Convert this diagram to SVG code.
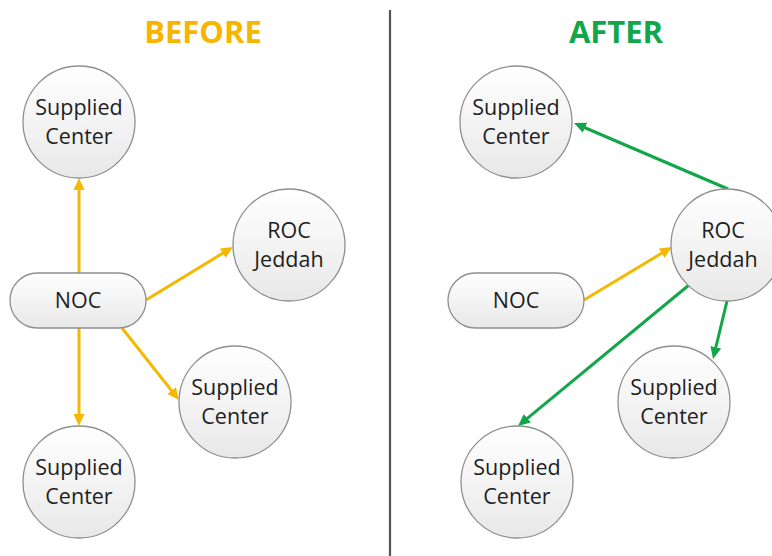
<svg xmlns="http://www.w3.org/2000/svg" width="772" height="556" viewBox="0 0 772 556">
<defs>
<linearGradient id="g" x1="0" y1="0" x2="0" y2="1"><stop offset="0" stop-color="#ffffff"/><stop offset="1" stop-color="#e8e8e8"/></linearGradient>
<marker id="ay" markerUnits="userSpaceOnUse" markerWidth="13" markerHeight="12" refX="7" refY="6" orient="auto"><path d="M0,0.5 L12,6 L0,11.5 z" fill="#f5b800"/></marker>
<marker id="ag" markerUnits="userSpaceOnUse" markerWidth="13" markerHeight="12" refX="7" refY="6" orient="auto"><path d="M0,0.5 L12,6 L0,11.5 z" fill="#12a64a"/></marker>
</defs>
<style>
.n{fill:url(#g);stroke:#8f8f8f;stroke-width:1.3}
.t{font-family:"Open Sans","Liberation Sans",sans-serif;font-size:21.5px;fill:#1e1e1e;text-anchor:middle}
.h{font-family:"Open Sans","Liberation Sans",sans-serif;font-size:31px;font-weight:bold;text-anchor:middle}
.y{stroke:#f5b800;stroke-width:3;fill:none;marker-end:url(#ay)}
.gr{stroke:#12a64a;stroke-width:3;fill:none;marker-end:url(#ag)}
</style>
<rect width="772" height="556" fill="#fff"/>
<text class="h" x="203" y="43" fill="#f7b500">BEFORE</text>
<text class="h" x="616" y="43" fill="#12a64a">AFTER</text>
<line x1="390" y1="10" x2="390" y2="556" stroke="#555" stroke-width="2.2"/>
<g id="connectors">
<line class="y" x1="79" y1="273" x2="79" y2="183"/>
<line class="y" x1="146" y1="300" x2="228.7" y2="249.6"/>
<line class="y" x1="122" y1="328" x2="175.9" y2="396.1"/>
<line class="y" x1="79" y1="328" x2="79" y2="421"/>
<line class="gr" x1="728" y1="189" x2="578.6" y2="125"/>
<line class="y" x1="584" y1="300" x2="667.7" y2="249.6"/>
<line class="gr" x1="689" y1="285" x2="521.9" y2="422.8"/>
<line class="gr" x1="727" y1="301" x2="714.2" y2="354.1"/>
</g>
<g id="b-sc-top"><circle class="n" cx="79" cy="122" r="56"/><text class="t" x="79" y="115">Supplied</text><text class="t" x="79" y="144">Center</text></g>
<g id="b-roc"><circle class="n" cx="289" cy="245" r="56"/><text class="t" x="289" y="238">ROC</text><text class="t" x="289" y="267">Jeddah</text></g>
<g id="b-noc"><rect class="n" x="10" y="273" width="136" height="55" rx="27.5"/><text class="t" x="78" y="308">NOC</text></g>
<g id="b-sc-mid"><circle class="n" cx="235" cy="402" r="56"/><text class="t" x="235" y="395">Supplied</text><text class="t" x="235" y="424">Center</text></g>
<g id="b-sc-bot"><circle class="n" cx="79" cy="482" r="56"/><text class="t" x="79" y="475">Supplied</text><text class="t" x="79" y="504">Center</text></g>
<g id="a-sc-top"><circle class="n" cx="516" cy="122" r="56"/><text class="t" x="516" y="115">Supplied</text><text class="t" x="516" y="144">Center</text></g>
<g id="a-roc"><circle class="n" cx="727" cy="245" r="56"/><text class="t" x="723" y="238">ROC</text><text class="t" x="723" y="267">Jeddah</text></g>
<g id="a-noc"><rect class="n" x="448" y="273" width="136" height="55" rx="27.5"/><text class="t" x="516" y="308">NOC</text></g>
<g id="a-sc-mid"><circle class="n" cx="674" cy="402" r="56"/><text class="t" x="674" y="395">Supplied</text><text class="t" x="674" y="424">Center</text></g>
<g id="a-sc-bot"><circle class="n" cx="517" cy="482" r="56"/><text class="t" x="517" y="475">Supplied</text><text class="t" x="517" y="504">Center</text></g>
</svg>
